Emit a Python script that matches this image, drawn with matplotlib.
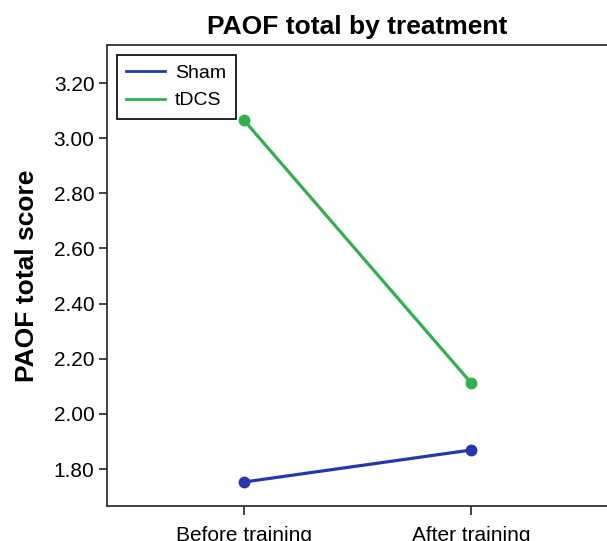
import matplotlib
matplotlib.use("Agg")
import matplotlib.pyplot as plt

plt.rcParams['font.family'] = ['Liberation Sans', 'DejaVu Sans']

# valores
momentos = ["Before training", "After training"]
sham = [1.753, 1.869]
tdcs = [3.065, 2.113]
yticks = [1.80, 2.00, 2.20, 2.40, 2.60, 2.80, 3.00, 3.20]

fig = plt.figure(figsize=(6.07, 5.41), dpi=100)
ax = fig.add_axes([107 / 607, 35 / 541, 501 / 607, 461 / 541])

x = list(range(len(momentos)))
ax.plot(x, sham, color='#2437b3', lw=2.3, marker='o', ms=7.5, label='Sham')
ax.plot(x, tdcs, color='#2db34a', lw=2.3, marker='o', ms=7.5, label='tDCS')

ax.set_xlim(-0.604, 1.604)
ax.set_ylim(1.666, 3.338)
ax.set_xticks(x)
ax.set_xticklabels(momentos, fontsize=15)
ax.set_yticks(yticks)
ax.set_yticklabels([f"{v:.2f}" for v in yticks], fontsize=15)
ax.tick_params(direction='out', length=6, width=1.2, color='#222222', pad=3)
ax.tick_params(axis='x', length=6.5, pad=8)

for lado in ['left', 'bottom', 'top']:
    ax.spines[lado].set_linewidth(1.3)
    ax.spines[lado].set_color('#333333')
ax.spines['right'].set_visible(False)

ax.set_title('PAOF total by treatment', fontsize=19, fontweight='bold', pad=8)
ax.set_ylabel('PAOF total score', fontsize=19, fontweight='bold')
ax.yaxis.set_label_coords(-0.136, 0.5)

leg = ax.legend(loc='upper left', fontsize=14, fancybox=False, framealpha=1,
                edgecolor='black', handlelength=2, handletextpad=0.5,
                labelspacing=0.5, borderpad=0.5, borderaxespad=0.5)
leg.get_frame().set_linewidth(1.2)
for linha in leg.get_lines():
    linha.set_marker('')
    linha.set_linewidth(2)

fig.savefig('out.png', dpi=100)
